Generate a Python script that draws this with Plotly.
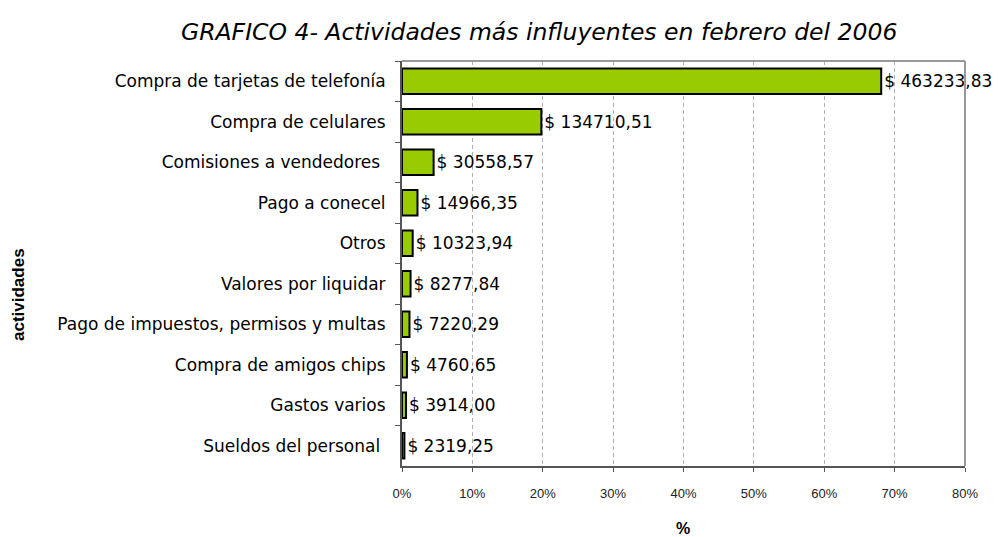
import plotly.graph_objects as go

categories = ["Compra de tarjetas de telefonía", "Compra de celulares", "Comisiones a vendedores ",
              "Pago a conecel", "Otros", "Valores por liquidar",
              "Pago de impuestos, permisos y multas", "Compra de amigos chips",
              "Gastos varios", "Sueldos del personal "]
values = [463233.83, 134710.51, 30558.57, 14966.35, 10323.94, 8277.84,
          7220.29, 4760.65, 3914.00, 2319.25]
labels = ["$ 463233,83", "$ 134710,51", "$ 30558,57", "$ 14966,35", "$ 10323,94",
          "$ 8277,84", "$ 7220,29", "$ 4760,65", "$ 3914,00", "$ 2319,25"]
x_ticks = [0, 10, 20, 30, 40, 50, 60, 70, 80]
x_tick_text = ["0%", "10%", "20%", "30%", "40%", "50%", "60%", "70%", "80%"]

total = sum(values)
pct = [v / total * 100 for v in values]

OFF = 8  # page body margin
W, H = 1001 - OFF, 537 - OFF
L, R, T, B = 402 - OFF, 965 - OFF, 61 - OFF, 466 - OFF
PW, PH = R - L, B - T

fig = go.Figure(go.Bar(
    y=categories, x=pct, orientation="h",
    marker=dict(color="#99CC00", line=dict(color="black", width=2)),
    width=0.63,
    text=labels, textposition="outside", cliponaxis=False,
    textfont=dict(family="DejaVu Sans", size=17, color="black"),
))

fig.update_layout(
    width=W, height=H,
    margin=dict(l=L, r=W - R, t=T, b=H - B, autoexpand=False),
    paper_bgcolor="white", plot_bgcolor="white",
    showlegend=False,
    font=dict(family="Arial", color="black"),
    xaxis=dict(range=[0, 80], tickvals=x_ticks, ticktext=x_tick_text, automargin=False,
               showgrid=True, gridcolor="#b0b0b0", griddash="4px,3px", gridwidth=1,
               showline=True, linecolor="#555555", linewidth=2, mirror=False,
               ticks="outside", ticklen=4, tickcolor="#555555", ticklabelstandoff=10,
               tickfont=dict(family="Arial", size=13, color="#222222"),
               zeroline=False),
    yaxis=dict(autorange="reversed", showline=True, linecolor="#555555", linewidth=2,
               automargin=False,
               ticks="outside", tickson="boundaries", ticklen=5, tickcolor="#555555",
               ticklabelstandoff=11,
               tickfont=dict(family="DejaVu Sans", size=17, color="black"),
               showgrid=False),
    shapes=[dict(type="line", xref="paper", yref="paper", x0=0, x1=1, y0=1, y1=1,
                 line=dict(color="#999999", width=2)),
            dict(type="line", xref="paper", yref="paper", x0=1, x1=1, y0=0, y1=1,
                 line=dict(color="#999999", width=2))],
    annotations=[
        dict(text="<i>GRAFICO 4- Actividades más influyentes en febrero del 2006</i>",
             xref="paper", yref="paper", x=(539 - OFF - L) / PW, y=1, yshift=29,
             xanchor="center", yanchor="middle", showarrow=False,
             font=dict(family="DejaVu Sans", size=23.5, color="black")),
        dict(text="<b>actividades</b>", xref="paper", yref="paper",
             x=(18 - OFF - L) / PW, y=(B - (295 - OFF)) / PH, textangle=-90, showarrow=False,
             xanchor="center", yanchor="middle",
             font=dict(family="Arial", size=17, color="black")),
        dict(text="<b>%</b>", xref="paper", yref="paper", x=(683 - OFF - L) / PW, y=0,
             yshift=-62, showarrow=False, xanchor="center", yanchor="middle",
             font=dict(family="Arial", size=16, color="black")),
    ],
)

fig.write_html("out.html")
